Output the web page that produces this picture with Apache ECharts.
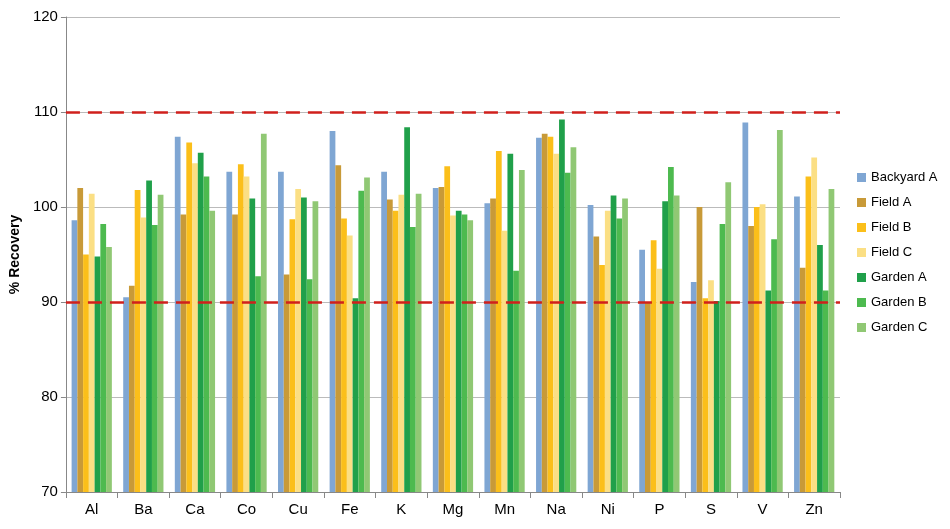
<!DOCTYPE html>
<html><head><meta charset="utf-8">
<script src="https://cdn.jsdelivr.net/npm/echarts@6/dist/echarts.min.js"></script>
<style>html,body{margin:0;padding:0;background:#fff}#c{width:950px;height:529px}</style>
</head><body><div id="c"></div>
<script>
const categories = ['Al','Ba','Ca','Co','Cu','Fe','K','Mg','Mn','Na','Ni','P','S','V','Zn'];
const seriesNames = ['Backyard A','Field A','Field B','Field C','Garden A','Garden B','Garden C'];
const colors = ['#7fa6d3','#c89a38','#fbbf1a','#fbdf84','#20a04a','#4dba4f','#90c874'];
const backyardA = [98.6,90.5,107.4,103.7,103.7,108.0,103.7,102.0,100.4,107.3,100.2,95.5,92.1,108.9,101.1];
const fieldA    = [102.0,91.7,99.2,99.2,92.9,104.4,100.8,102.1,100.9,107.7,96.9,90.0,100.0,98.0,93.6];
const fieldB    = [95.0,101.8,106.8,104.5,98.7,98.8,99.6,104.3,105.9,107.4,93.9,96.5,90.4,100.0,103.2];
const fieldC    = [101.4,98.9,104.6,103.2,101.9,97.0,101.3,99.1,97.5,105.6,99.6,93.5,92.3,100.3,105.2];
const gardenA   = [94.8,102.8,105.7,100.9,101.0,90.4,108.4,99.6,105.6,109.2,101.2,100.6,90.1,91.2,96.0];
const gardenB   = [98.2,98.1,103.2,92.7,92.4,101.7,97.9,99.2,93.3,103.6,98.8,104.2,98.2,96.6,91.2];
const gardenC   = [95.8,101.3,99.6,107.7,100.6,103.1,101.4,98.6,103.9,106.3,100.9,101.2,102.6,108.1,101.9];
const allData = [backyardA,fieldA,fieldB,fieldC,gardenA,gardenB,gardenC];
const limits = [90,110];

const chart = echarts.init(document.getElementById('c'));
const series = allData.map((d,i)=>({
  name: seriesNames[i], type:'bar', data:d, barGap:'0%', barCategoryGap:'22%',
  itemStyle:{color:colors[i]}
}));
series[0].markLine = {
  symbol:'none', silent:true, label:{show:false},
  lineStyle:{color:'#d0201c', type:[14,8], width:2.5},
  data: limits.map(v=>({yAxis:v}))
};
chart.setOption({
  animation:false,
  textStyle:{fontFamily:'Liberation Sans, Arial, sans-serif'},
  grid:{left:62,right:110,top:17,bottom:37},
  legend:{orient:'vertical',left:852,top:166,itemWidth:9,itemHeight:9,itemGap:12,
    icon:'rect',textStyle:{fontSize:13,color:'#000'},data:seriesNames},
  xAxis:{type:'category',data:categories,
    axisLine:{lineStyle:{color:'#888'}},
    axisTick:{show:true,length:6,lineStyle:{color:'#888'}},
    axisLabel:{fontSize:15,color:'#000',margin:10}},
  yAxis:{type:'value',min:70,max:120,interval:10,
    name:'% Recovery',nameLocation:'middle',nameGap:36,
    nameTextStyle:{fontSize:14,fontWeight:'bold',color:'#000'},
    axisLine:{show:true,lineStyle:{color:'#888'}},
    axisTick:{show:true,length:5,lineStyle:{color:'#888'}},
    axisLabel:{fontSize:15,color:'#000'},
    splitLine:{lineStyle:{color:'#bbb'}}},
  series
});
</script></body></html>
